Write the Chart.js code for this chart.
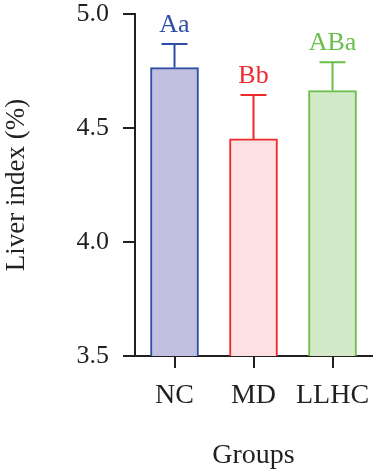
<!DOCTYPE html>
<html>
<head>
<meta charset="utf-8">
<script src="https://cdn.jsdelivr.net/npm/chart.js@4/dist/chart.umd.min.js"></script>
<style>
  html, body { margin: 0; padding: 0; background: #fff; }
  #wrap { width: 375px; height: 474px; }
</style>
</head>
<body>
<div id="wrap"><canvas id="chartLiver"></canvas></div>
<script>
// ================= DATOS =================
const groups = ['NC', 'MD', 'LLHC'];
const liverIndex = [4.765, 4.452, 4.664];
const liverSD = [0.103, 0.193, 0.124];
const sigLetters = ['Aa', 'Bb', 'ABa'];
const yTicks = [3.5, 4.0, 4.5, 5.0];

const fillColors = ['#c1c0e0', '#fde0e2', '#d3eac9'];
const lineColors = ['#2e4ea3', '#ee2a2e', '#6abf4b'];
const axisColor = '#231f20';
const serif = "'Liberation Serif', 'DejaVu Serif', serif";

// barras de error + letras de significancia
const errorBarPlugin = {
    id: 'errorBars',
    afterDatasetsDraw(chart) {
        const ctx = chart.ctx;
        const meta = chart.getDatasetMeta(0);
        const y = chart.scales.y;
        meta.data.forEach((bar, i) => {
            const top = y.getPixelForValue(liverIndex[i] + liverSD[i]);
            const base = y.getPixelForValue(liverIndex[i]);
            ctx.save();
            ctx.strokeStyle = lineColors[i];
            ctx.lineWidth = 2;
            ctx.beginPath();
            ctx.moveTo(bar.x, base);
            ctx.lineTo(bar.x, top);
            ctx.moveTo(bar.x - 13, top);
            ctx.lineTo(bar.x + 13, top);
            ctx.stroke();
            ctx.fillStyle = lineColors[i];
            ctx.font = '26px ' + serif;
            ctx.textAlign = 'center';
            ctx.textBaseline = 'alphabetic';
            ctx.fillText(sigLetters[i], bar.x, top - 12);
            ctx.restore();
        });
    }
};

new Chart(document.getElementById('chartLiver'), {
    type: 'bar',
    data: {
        labels: groups,
        datasets: [{
            data: liverIndex,
            backgroundColor: fillColors,
            borderColor: lineColors,
            borderWidth: 2,
            barThickness: 48
        }]
    },
    options: {
        responsive: true,
        maintainAspectRatio: false,
        animation: false,
        layout: { padding: { top: 14, right: 3, left: 0, bottom: 0 } },
        plugins: {
            legend: { display: false },
            tooltip: { enabled: false }
        },
        scales: {
            x: {
                grid: {
                    offset: false,
                    drawOnChartArea: false,
                    tickLength: 12,
                    lineWidth: 2,
                    color: axisColor
                },
                border: { color: axisColor, width: 2 },
                ticks: {
                    color: axisColor,
                    padding: 11,
                    autoSkip: false,
                    maxRotation: 0,
                    minRotation: 0,
                    font: { family: serif, size: 28 }
                },
                title: {
                    display: true,
                    text: 'Groups',
                    color: axisColor,
                    font: { family: serif, size: 28 },
                    padding: { bottom: 2 }
                },
                afterFit(scale) {
                    scale.height = 118;
                    scale.paddingLeft = 0;
                    scale.paddingRight = 0;
                }
            },
            y: {
                min: 3.5,
                max: 5.0,
                afterBuildTicks(scale) {
                    scale.ticks = yTicks.map(v => ({ value: v }));
                },
                grid: {
                    drawOnChartArea: false,
                    tickLength: 12,
                    lineWidth: 2,
                    color: axisColor
                },
                border: { color: axisColor, width: 2 },
                ticks: {
                    color: axisColor,
                    padding: 14,
                    font: { family: serif, size: 26 },
                    callback: v => Number(v).toFixed(1)
                },
                title: {
                    display: true,
                    text: 'Liver index (%)',
                    color: axisColor,
                    font: { family: serif, size: 27 },
                    padding: { top: 1 }
                },
                afterFit(scale) {
                    scale.width = 135;
                    scale.paddingTop = 0;
                    scale.paddingBottom = 0;
                }
            }
        }
    },
    plugins: [errorBarPlugin]
});
</script>
</body>
</html>
